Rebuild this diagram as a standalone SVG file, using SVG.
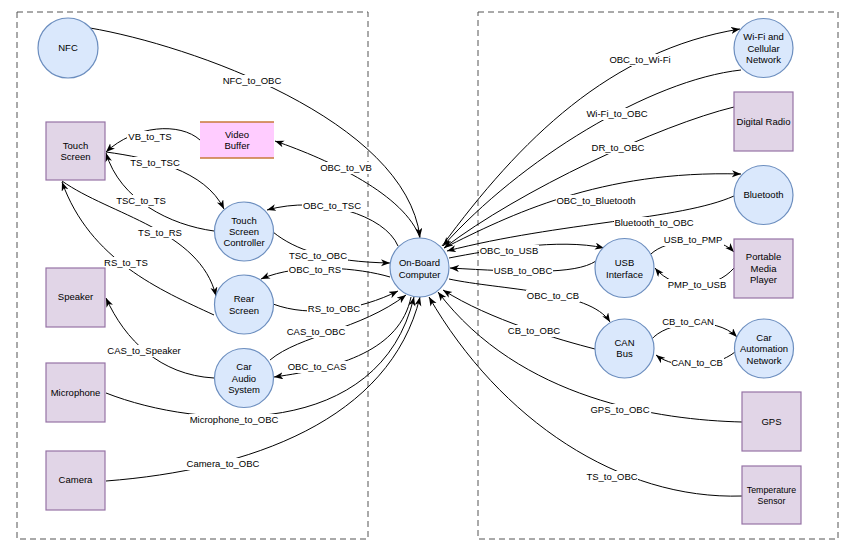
<svg xmlns="http://www.w3.org/2000/svg" width="857" height="555" viewBox="0 0 857 555">
<defs>
<style>
.frame{fill:none;stroke:#555;stroke-width:1;stroke-dasharray:6 4}
.c{fill:#dae8fc;stroke:#6c8ebf;stroke-width:1.2}
.r{fill:#e1d5e7;stroke:#9673a6;stroke-width:1.2}
.e{fill:none;stroke:#000;stroke-width:1;marker-end:url(#arr)}
.t{font-family:"Liberation Sans",Arial,sans-serif;font-size:9.5px;fill:#000;text-anchor:middle}
.lb{fill:#fff}
</style>
<marker id="arr" markerUnits="userSpaceOnUse" markerWidth="10" markerHeight="8" refX="9" refY="3.5" orient="auto">
<path d="M0,0 L9,3.5 L0,7 L2.5,3.5 z" fill="#000"/>
</marker>
</defs>
<rect width="857" height="555" fill="#fff"/>
<rect class="frame" x="17" y="12" width="351" height="527"/>
<rect class="frame" x="478" y="12" width="360" height="527"/>

<g id="connectors">
<path class="e" d="M90,28 C190,45 405,120 420,237"/>
<path class="e" d="M420,238 C405,195 330,160 275,141"/>
<path class="e" d="M200,140 C180,122 135,125 106,152"/>
<path class="e" d="M106,152 C150,158 205,170 224,209"/>
<path class="e" d="M214,231 C170,225 120,200 106,153"/>
<path class="e" d="M62,181 C110,215 200,230 216,296"/>
<path class="e" d="M214,315 C160,290 90,260 62,182"/>
<path class="e" d="M398,246 C385,215 320,195 267,210"/>
<path class="e" d="M273,232 C295,250 330,262 390,263"/>
<path class="e" d="M390,277 C360,268 300,262 261,279"/>
<path class="e" d="M273,304 C310,318 360,310 398,291"/>
<path class="e" d="M270,360 C300,335 360,330 406,295"/>
<path class="e" d="M411,297 C400,350 340,368 274,377"/>
<path class="e" d="M214,378 C160,375 125,340 106,298"/>
<path class="e" d="M106,393 C200,430 380,440 414,297"/>
<path class="e" d="M106,481 C250,470 390,420 420,297"/>
<path class="e" d="M442,246 C520,140 610,50 740,29"/>
<path class="e" d="M741,70 C650,80 520,160 443,246"/>
<path class="e" d="M734,107 C660,125 520,190 444,248"/>
<path class="e" d="M444,248 C510,215 600,170 741,174"/>
<path class="e" d="M734,196 C680,220 560,222 447,251"/>
<path class="e" d="M449,258 C490,250 560,238 604,248"/>
<path class="e" d="M596,261 C575,275 520,272 450,268"/>
<path class="e" d="M651,254 C665,240 715,232 734,252"/>
<path class="e" d="M734,268 C715,290 675,292 655,268"/>
<path class="e" d="M449,279 C500,290 590,290 610,322"/>
<path class="e" d="M595,349 C560,340 490,320 443,290"/>
<path class="e" d="M651,340 C665,322 715,315 737,337"/>
<path class="e" d="M735,352 C715,368 675,370 656,355"/>
<path class="e" d="M742,422 C660,420 520,400 438,292"/>
<path class="e" d="M742,496 C620,500 500,420 429,297"/>
</g>

<g id="connector-labels">
<rect class="lb" x="222" y="75" width="60" height="12"/><text class="t" x="252" y="81" dy="0.35em">NFC_to_OBC</text>
<rect class="lb" x="319" y="162" width="54" height="12"/><text class="t" x="346" y="168" dy="0.35em">OBC_to_VB</text>
<rect class="lb" x="127" y="131" width="47" height="12"/><text class="t" x="150" y="137" dy="0.35em">VB_to_TS</text>
<rect class="lb" x="129" y="157" width="51" height="12"/><text class="t" x="155" y="163" dy="0.35em">TS_to_TSC</text>
<rect class="lb" x="116" y="195" width="51" height="12"/><text class="t" x="141" y="201" dy="0.35em">TSC_to_TS</text>
<rect class="lb" x="137" y="227" width="45" height="12"/><text class="t" x="160" y="233" dy="0.35em">TS_to_RS</text>
<rect class="lb" x="103" y="257" width="46" height="12"/><text class="t" x="126" y="263" dy="0.35em">RS_to_TS</text>
<rect class="lb" x="302" y="200" width="60" height="12"/><text class="t" x="332" y="206" dy="0.35em">OBC_to_TSC</text>
<rect class="lb" x="288" y="250" width="60" height="12"/><text class="t" x="318" y="256" dy="0.35em">TSC_to_OBC</text>
<rect class="lb" x="288" y="264" width="54" height="12"/><text class="t" x="315" y="270" dy="0.35em">OBC_to_RS</text>
<rect class="lb" x="307" y="303" width="54" height="12"/><text class="t" x="334" y="309" dy="0.35em">RS_to_OBC</text>
<rect class="lb" x="286" y="326" width="61" height="12"/><text class="t" x="316" y="332" dy="0.35em">CAS_to_OBC</text>
<rect class="lb" x="287" y="361" width="61" height="12"/><text class="t" x="317" y="367" dy="0.35em">OBC_to_CAS</text>
<rect class="lb" x="107" y="345" width="75" height="12"/><text class="t" x="144" y="351" dy="0.35em">CAS_to_Speaker</text>
<rect class="lb" x="189" y="414" width="90" height="12"/><text class="t" x="234" y="420" dy="0.35em">Microphone_to_OBC</text>
<rect class="lb" x="186" y="458" width="74" height="12"/><text class="t" x="223" y="464" dy="0.35em">Camera_to_OBC</text>
<rect class="lb" x="607" y="54" width="65" height="12"/><text class="t" x="640" y="60" dy="0.35em">OBC_to_Wi-Fi</text>
<rect class="lb" x="586" y="108" width="63" height="12"/><text class="t" x="617" y="114" dy="0.35em">Wi-Fi_to_OBC</text>
<rect class="lb" x="591" y="142" width="54" height="12"/><text class="t" x="618" y="148" dy="0.35em">DR_to_OBC</text>
<rect class="lb" x="556" y="195" width="80" height="12"/><text class="t" x="596" y="201" dy="0.35em">OBC_to_Bluetooth</text>
<rect class="lb" x="614" y="217" width="80" height="12"/><text class="t" x="654" y="223" dy="0.35em">Bluetooth_to_OBC</text>
<rect class="lb" x="479" y="245" width="60" height="12"/><text class="t" x="509" y="251" dy="0.35em">OBC_to_USB</text>
<rect class="lb" x="493" y="265" width="60" height="12"/><text class="t" x="523" y="271" dy="0.35em">USB_to_OBC</text>
<rect class="lb" x="663" y="234" width="61" height="12"/><text class="t" x="693" y="240" dy="0.35em">USB_to_PMP</text>
<rect class="lb" x="667" y="279" width="60" height="12"/><text class="t" x="697" y="285" dy="0.35em">PMP_to_USB</text>
<rect class="lb" x="526" y="290" width="54" height="12"/><text class="t" x="553" y="296" dy="0.35em">OBC_to_CB</text>
<rect class="lb" x="507" y="325" width="54" height="12"/><text class="t" x="534" y="331" dy="0.35em">CB_to_OBC</text>
<rect class="lb" x="661" y="316" width="54" height="12"/><text class="t" x="688" y="322" dy="0.35em">CB_to_CAN</text>
<rect class="lb" x="671" y="357" width="53" height="12"/><text class="t" x="697" y="363" dy="0.35em">CAN_to_CB</text>
<rect class="lb" x="590" y="404" width="61" height="12"/><text class="t" x="620" y="410" dy="0.35em">GPS_to_OBC</text>
<rect class="lb" x="586" y="471" width="52" height="12"/><text class="t" x="612" y="477" dy="0.35em">TS_to_OBC</text>
</g>

<g id="nfc"><circle class="c" cx="68" cy="48" r="30"/><text class="t" x="68" y="48" dy="0.35em">NFC</text></g>
<g id="touch-screen"><rect class="r" x="46" y="122" width="59" height="58"/><text class="t" x="75.5" y="145.5" dy="0.35em">Touch</text><text class="t" x="75.5" y="157" dy="0.35em">Screen</text></g>
<g id="video-buffer"><rect x="200" y="122" width="74" height="36" fill="#ffccff"/><line x1="200" y1="122" x2="274" y2="122" stroke="#c8783a" stroke-width="1.3"/><line x1="200" y1="158" x2="274" y2="158" stroke="#c8783a" stroke-width="1.3"/><text class="t" x="237" y="134.5" dy="0.35em">Video</text><text class="t" x="237" y="146" dy="0.35em">Buffer</text></g>
<g id="touch-screen-controller"><circle class="c" cx="244" cy="231.5" r="29.5"/><text class="t" x="244" y="220.5" dy="0.35em">Touch</text><text class="t" x="244" y="231.5" dy="0.35em">Screen</text><text class="t" x="244" y="242.5" dy="0.35em">Controller</text></g>
<g id="rear-screen"><circle class="c" cx="244" cy="304.5" r="29.5"/><text class="t" x="244" y="298.7" dy="0.35em">Rear</text><text class="t" x="244" y="310.2" dy="0.35em">Screen</text></g>
<g id="speaker"><rect class="r" x="46" y="268" width="59" height="59"/><text class="t" x="75.5" y="297" dy="0.35em">Speaker</text></g>
<g id="car-audio-system"><circle class="c" cx="244" cy="378" r="29.5"/><text class="t" x="244" y="366.7" dy="0.35em">Car</text><text class="t" x="244" y="378.2" dy="0.35em">Audio</text><text class="t" x="244" y="389.5" dy="0.35em">System</text></g>
<g id="microphone"><rect class="r" x="46" y="363" width="59" height="59"/><text class="t" x="75.5" y="392.7" dy="0.35em">Microphone</text></g>
<g id="camera"><rect class="r" x="46" y="451" width="59" height="59"/><text class="t" x="75.5" y="479.5" dy="0.35em">Camera</text></g>
<g id="on-board-computer"><circle class="c" cx="419.5" cy="267.5" r="29.5"/><text class="t" x="419.5" y="262.3" dy="0.35em">On-Board</text><text class="t" x="419.5" y="274.3" dy="0.35em">Computer</text></g>
<g id="wifi-cellular-network"><circle class="c" cx="763.5" cy="48" r="29.5"/><text class="t" x="763.5" y="36.7" dy="0.35em">Wi-Fi and</text><text class="t" x="763.5" y="48.5" dy="0.35em">Cellular</text><text class="t" x="763.5" y="60" dy="0.35em">Network</text></g>
<g id="digital-radio"><rect class="r" x="734" y="92" width="59" height="59"/><text class="t" x="763.5" y="121.7" dy="0.35em">Digital Radio</text></g>
<g id="bluetooth"><circle class="c" cx="763.5" cy="195" r="29.5"/><text class="t" x="763.5" y="195" dy="0.35em">Bluetooth</text></g>
<g id="usb-interface"><circle class="c" cx="624.5" cy="268" r="29.5"/><text class="t" x="624.5" y="262.7" dy="0.35em">USB</text><text class="t" x="624.5" y="274.3" dy="0.35em">Interface</text></g>
<g id="portable-media-player"><rect class="r" x="734" y="239" width="59" height="59"/><text class="t" x="763.5" y="256.7" dy="0.35em">Portable</text><text class="t" x="763.5" y="268.3" dy="0.35em">Media</text><text class="t" x="763.5" y="279.5" dy="0.35em">Player</text></g>
<g id="can-bus"><circle class="c" cx="624.5" cy="348.5" r="29.5"/><text class="t" x="624.5" y="342.7" dy="0.35em">CAN</text><text class="t" x="624.5" y="354" dy="0.35em">Bus</text></g>
<g id="car-automation-network"><circle class="c" cx="764" cy="348.5" r="29.5"/><text class="t" x="764" y="337.3" dy="0.35em">Car</text><text class="t" x="764" y="349" dy="0.35em">Automation</text><text class="t" x="764" y="360.3" dy="0.35em">Network</text></g>
<g id="gps"><rect class="r" x="742" y="392" width="59" height="59"/><text class="t" x="771.5" y="421.7" dy="0.35em">GPS</text></g>
<g id="temperature-sensor"><rect class="r" x="742" y="466" width="59" height="58"/><text class="t" x="771.5" y="490" dy="0.35em" style="font-size:8.8px">Temperature</text><text class="t" x="771.5" y="501" dy="0.35em" style="font-size:8.8px">Sensor</text></g>
</svg>
